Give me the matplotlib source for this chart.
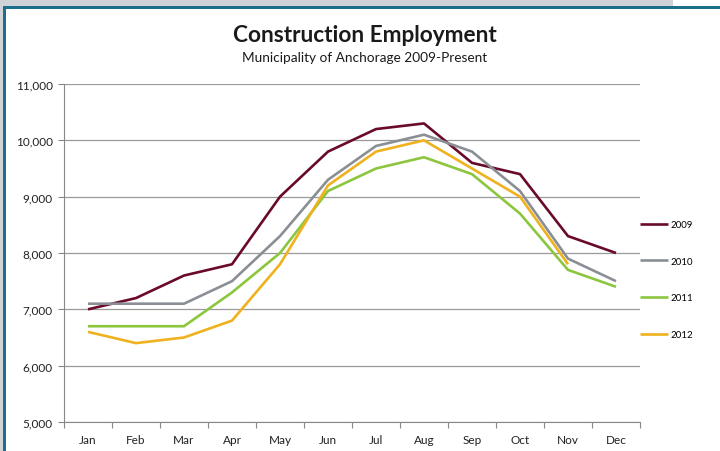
import matplotlib
matplotlib.use("Agg")
import matplotlib.pyplot as plt
from matplotlib.patches import Rectangle
from matplotlib.ticker import FuncFormatter, FixedLocator

months = ["Jan", "Feb", "Mar", "Apr", "May", "Jun", "Jul", "Aug", "Sep", "Oct", "Nov", "Dec"]
y2009 = [7000, 7200, 7600, 7800, 9000, 9800, 10200, 10300, 9600, 9400, 8300, 8000]
y2010 = [7100, 7100, 7100, 7500, 8300, 9300, 9900, 10100, 9800, 9100, 7900, 7500]
y2011 = [6700, 6700, 6700, 7300, 8000, 9100, 9500, 9700, 9400, 8700, 7700, 7400]
y2012 = [6600, 6400, 6500, 6800, 7800, 9200, 9800, 10000, 9500, 9000, 7800]
series_labels = ["2009", "2010", "2011", "2012"]
colors = ["#6a0a2a", "#8a8f95", "#8cc63f", "#efb21e"]

plt.rcParams['font.family'] = ['Lato', 'DejaVu Sans']

W, H = 720, 452
fig = plt.figure(figsize=(W / 100, H / 100), dpi=100)
fig.patch.set_facecolor("white")

# frame decoration
fig.add_artist(Rectangle((0, 1 - 7 / H), 673 / W, 7 / H, transform=fig.transFigure,
                         facecolor="#cfd3d8", edgecolor="none", zorder=0))
fig.add_artist(Rectangle((0, 0), 3 / W, 1, transform=fig.transFigure,
                         facecolor="#cfd3d8", edgecolor="none", zorder=0))
fig.add_artist(Rectangle((3 / W, 0), 3 / W, 1 - 7 / H, transform=fig.transFigure,
                         facecolor="#1b6f8c", edgecolor="none", zorder=1))
fig.add_artist(Rectangle((3 / W, 1 - 10 / H), 1 - 3 / W, 3 / H, transform=fig.transFigure,
                         facecolor="#1b6f8c", edgecolor="none", zorder=1))

ax = fig.add_axes([64 / W, 1 - 423 / H, 576 / W, 338 / H])
x = list(range(len(months)))
for vals, lab, c in zip([y2009, y2010, y2011, y2012], series_labels, colors):
    ax.plot(x[:len(vals)], vals, color=c, lw=1.9, label=lab, solid_capstyle="butt", zorder=3)

ax.set_xlim(-0.5, 11.5)
ax.set_ylim(5000, 11000)
ax.set_yticks(range(5000, 11001, 1000))
ax.yaxis.set_major_formatter(FuncFormatter(lambda v, p: f"{int(v):,}"))
ax.set_xticks(x)
ax.set_xticklabels(months)
ax.xaxis.set_minor_locator(FixedLocator([i - 0.5 for i in range(13)]))
ax.tick_params(axis="x", which="major", length=0, labelsize=8.5, pad=9, colors="#222222")
ax.tick_params(axis="x", which="minor", length=4, color="#888888", width=0.8)
ax.tick_params(axis="y", length=4, color="#888888", width=0.8, labelsize=8.5, pad=4, colors="#222222")
ax.tick_params(axis="y", color="#888888")
ax.tick_params(axis="x", which="minor", color="#888888")
ax.grid(axis="y", color="#9a9a9a", lw=0.9, zorder=0)
for s in ["top", "right"]:
    ax.spines[s].set_visible(False)
for s in ["left", "bottom"]:
    ax.spines[s].set_color("#888888")
    ax.spines[s].set_linewidth(0.8)

leg = ax.legend(loc="upper left", bbox_to_anchor=(640 / W, 1 - 221 / H),
                bbox_transform=fig.transFigure, frameon=False, fontsize=7,
                handlelength=2.9, handletextpad=0.2, labelspacing=2.85, borderpad=0,
                borderaxespad=0)

fig.text(365 / W, 1 - 36 / H, "Construction Employment", ha="center", va="center",
         fontsize=16.3, fontweight="bold", color="#1a1a1a")
fig.text(365 / W, 1 - 58 / H, "Municipality of Anchorage 2009-Present", ha="center", va="center",
         fontsize=9.8, color="#1a1a1a")

fig.savefig("out.png", dpi=100)
